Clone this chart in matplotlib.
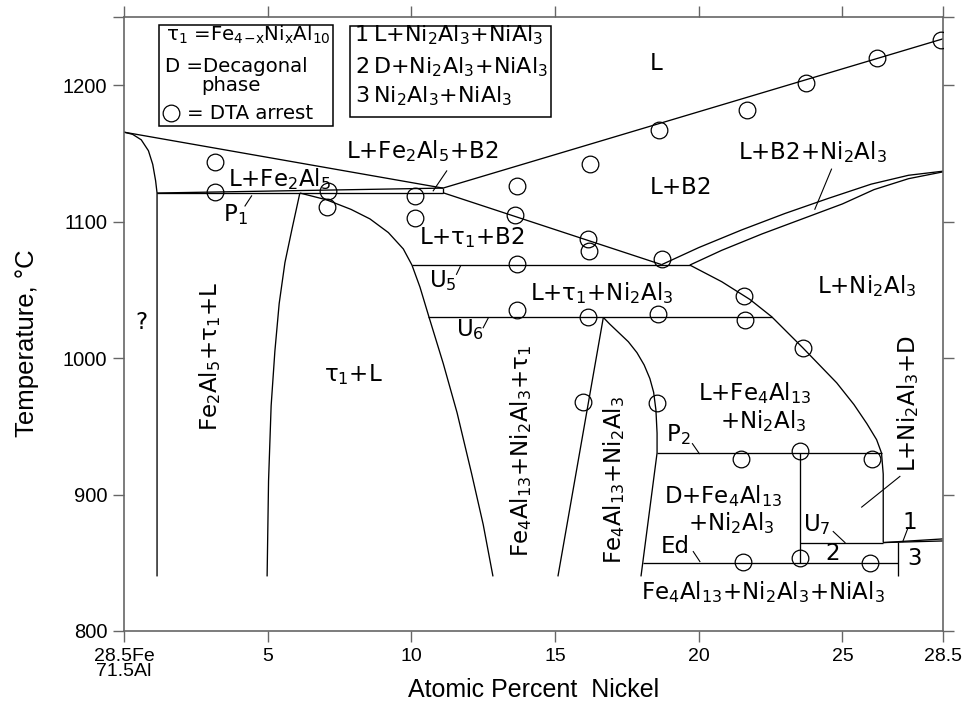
import numpy as np
import matplotlib
matplotlib.use('Agg')
import matplotlib.pyplot as plt
from matplotlib.patches import Rectangle

plt.rcParams['font.family'] = ['DejaVu Sans']
plt.rcParams['mathtext.default'] = 'regular'

# phase boundaries, (at.% Ni, temperature C)
liq_fe2al5 = [(0, 1165.6), (11.1, 1124.6)]
liq_b2 = [(11.1, 1124.6), (28.5, 1234)]
fe2al5_edge = [(0, 1165.6), (0.3, 1164), (0.6, 1160), (0.85, 1152), (1.0, 1142),
               (1.1, 1130), (1.15, 1121), (1.15, 840)]
p1_line = [(1.15, 1121), (11.1, 1121)]
p1_sliver = [(1.15, 1121), (11.1, 1124.6)]
p1_end = [(11.1, 1121), (11.1, 1124.6)]
b2_edge = [(11.1, 1121.2), (18.71, 1068.5)]
u5_line = [(10.02, 1068.2), (19.69, 1068.2)]
u6_line = [(10.58, 1030), (22.54, 1030)]
b2_ni2al3_up = [(18.71, 1068.5), (20.0, 1081), (21.5, 1094), (23.0, 1106), (24.5, 1117),
                (26.0, 1127.5), (27.3, 1134), (28.5, 1137)]
b2_ni2al3_lo = [(19.69, 1068.2), (20.8, 1079), (22.2, 1091), (23.6, 1102), (25.0, 1113),
                (26.1, 1123.5), (27.3, 1131.5), (28.5, 1136.5)]
ni2al3_liq = [(19.69, 1068.2), (20.8, 1056), (21.78, 1043), (22.54, 1030.3), (23.62, 1007.6),
              (24.8, 981.9), (25.4, 966), (25.85, 952), (26.19, 940.2), (26.36, 930.5),
              (26.42, 915), (26.42, 864.8)]
tau1_right = [(6.12, 1121), (7.05, 1116), (7.9, 1109), (8.56, 1102), (9.2, 1092),
              (9.72, 1080), (10.02, 1068.2), (10.3, 1052), (10.6, 1031), (11.11, 996),
              (11.59, 960), (12.1, 915), (12.5, 878), (12.84, 840)]
tau1_left = [(6.12, 1121), (5.85, 1095), (5.6, 1070), (5.4, 1040), (5.25, 1005),
             (5.12, 965), (5.03, 910), (4.98, 840)]
ni2al3_left = [(16.68, 1029.8), (15.1, 840)]
fe4al13_edge = [(16.68, 1029.8), (16.9, 1025), (17.2, 1019), (17.55, 1012), (17.85, 1004),
                (18.1, 995), (18.3, 985), (18.43, 975), (18.51, 962), (18.55, 945),
                (18.55, 930.5), (17.99, 840)]
p2_line = [(18.55, 930.5), (26.36, 930.5)]
d_vert = [(23.52, 930.5), (23.52, 850)]
u7_line = [(23.52, 864.8), (26.42, 864.8)]
ed_line = [(18.06, 850), (26.93, 850)]
wedge_up = [(26.42, 864.8), (28.5, 867.5)]
wedge_lo = [(26.42, 864.8), (28.5, 866)]
nial3_vert = [(26.93, 865.1), (26.93, 840)]

boundaries = [liq_fe2al5, liq_b2, fe2al5_edge, p1_line, p1_sliver, p1_end, b2_edge,
              u5_line, u6_line, b2_ni2al3_up, b2_ni2al3_lo, ni2al3_liq, tau1_right,
              tau1_left, ni2al3_left, fe4al13_edge, p2_line, d_vert, u7_line, ed_line,
              wedge_up, wedge_lo, nial3_vert]

# DTA arrests
dta_x = [3.17, 3.17, 7.11, 7.07, 10.13, 10.13, 13.66, 13.6, 13.66, 13.66, 16.21, 16.14,
         16.18, 16.14, 18.62, 18.71, 18.59, 15.97, 18.55, 21.67, 23.73, 26.19, 28.43,
         21.57, 21.6, 23.62, 21.46, 23.52, 26.02, 21.54, 23.52, 25.96]
dta_t = [1143.4, 1121.8, 1122.5, 1111.1, 1118.9, 1102.5, 1126.2, 1104.9, 1069.2, 1035.2,
         1142.1, 1087.6, 1078.5, 1029.8, 1167.3, 1072.4, 1032, 968.1, 967.2, 1182,
         1201.6, 1219.7, 1233.4, 1045.2, 1028, 1007.6, 926.1, 931.6, 926.1, 850.7,
         853.6, 849.9]

xticks = [0, 5, 10, 15, 20, 25, 28.5]
xticklabels = ['28.5Fe\n71.5Al', '5', '10', '15', '20', '25', '28.5']
yticks = [800, 900, 1000, 1100, 1200, 1250]
yticklabels = ['800', '900', '1000', '1100', '1200', '']

# region labels: x, T, text, rotation
labels = [
    (18.51, 1215.6, 'L', 0),
    (19.35, 1125.3, 'L$+$B2', 0),
    (23.97, 1151, 'L$+$B2$+$Ni$_2$Al$_3$', 0),
    (10.36, 1151.9, 'L$+$Fe$_2$Al$_5$$+$B2', 0),
    (5.43, 1131.1, 'L$+$Fe$_2$Al$_5$', 0),
    (3.86, 1105.4, 'P$_1$', 0),
    (12.1, 1088.3, 'L$+\\tau_1$$+$B2', 0),
    (11.11, 1056.5, 'U$_5$', 0),
    (12.04, 1021, 'U$_6$', 0),
    (16.62, 1048, 'L$+\\tau_1$$+$Ni$_2$Al$_3$', 0),
    (25.84, 1052.8, 'L$+$Ni$_2$Al$_3$', 0),
    (0.62, 1025.9, '?', 0),
    (2.99, 1001.4, 'Fe$_2$Al$_5$$+\\tau_1$$+$L', 90),
    (7.99, 988, '$\\tau_1$$+$L', 0),
    (13.83, 932.3, 'Fe$_4$Al$_{13}$$+$Ni$_2$Al$_3$$+\\tau_1$', 90),
    (17.06, 910.9, 'Fe$_4$Al$_{13}$$+$Ni$_2$Al$_3$', 90),
    (21.96, 974.5, 'L$+$Fe$_4$Al$_{13}$', 0),
    (22.25, 953.7, '$+$Ni$_2$Al$_3$', 0),
    (19.29, 943.9, 'P$_2$', 0),
    (20.85, 898.6, 'D$+$Fe$_4$Al$_{13}$', 0),
    (21.14, 879, '$+$Ni$_2$Al$_3$', 0),
    (19.17, 862, 'Ed', 0),
    (24.1, 877.8, 'U$_7$', 0),
    (24.65, 857, '2', 0),
    (27.52, 853.4, '3', 0),
    (27.35, 879.3, '1', 0),
    (22.24, 828.9, 'Fe$_4$Al$_{13}$$+$Ni$_2$Al$_3$$+$NiAl$_3$', 0),
    (27.29, 966.7, 'L$+$Ni$_2$Al$_3$$+$D', 90),
]

# leader lines
pointers = [
    [(24.62, 1138.5), (24.04, 1109.1)],
    [(11.23, 1137.2), (10.76, 1122.6)],
    [(4.44, 1118.9), (4.21, 1111.5)],
    [(11.71, 1067.5), (11.57, 1061.4)],
    [(12.68, 1029.6), (12.5, 1022.3)],
    [(19.78, 937.3), (20.02, 930)],
    [(19.81, 858.2), (20.04, 850.9)],
    [(24.68, 872.9), (25.09, 864.8)],
    [(27.0, 913.3), (25.67, 890.8)],
    [(27.28, 875.5), (27.1, 865.5)],
]

fig = plt.figure(figsize=(9.8, 7.11), dpi=100)
ax = fig.add_axes([124 / 980, 1 - 631 / 711, 819 / 980, 614 / 711])

for b in boundaries:
    b = np.array(b)
    ax.plot(b[:, 0], b[:, 1], color='black', lw=0.95, solid_capstyle='butt')
for p in pointers:
    p = np.array(p)
    ax.plot(p[:, 0], p[:, 1], color='black', lw=0.8)

ax.plot(dta_x, dta_t, 'o', ms=12, mfc='none', mec='black', mew=0.9, zorder=5)

fs = 16.5
for x, t, s, r in labels:
    ax.text(x, t, s, fontsize=fs, rotation=r, ha='center', va='center')

# legend boxes
ax.add_patch(Rectangle((1.23, 1170.3), 7.28 - 1.23, 1244.2 - 1170.3, fill=False, lw=1.1, ec='black'))
ax.add_patch(Rectangle((7.86, 1176.9), 14.85 - 7.86, 1243.2 - 1176.9, fill=False, lw=1.1, ec='black'))
fl = 14.2
ax.text(1.45, 1237.2, '$\\tau_1$ =Fe$_4$$_{-x}$Ni$_x$Al$_{10}$', fontsize=fl, va='center')
ax.text(1.43, 1214, 'D =Decagonal', fontsize=fl, va='center')
ax.text(2.7, 1199.5, 'phase', fontsize=fl, va='center')
ax.plot([1.62], [1179.4], 'o', ms=12, mfc='none', mec='black', mew=0.9)
ax.text(2.2, 1179.4, '= DTA arrest', fontsize=fl, va='center')
fb = 16
ax.text(8.04, 1236.8, '1', fontsize=fb, va='center')
ax.text(8.04, 1213, '2', fontsize=fb, va='center')
ax.text(8.04, 1192.3, '3', fontsize=fb, va='center')
ax.text(8.67, 1236.8, 'L$+$Ni$_2$Al$_3$$+$NiAl$_3$', fontsize=fb, va='center')
ax.text(8.67, 1213, 'D$+$Ni$_2$Al$_3$$+$NiAl$_3$', fontsize=fb, va='center')
ax.text(8.67, 1192.3, 'Ni$_2$Al$_3$$+$NiAl$_3$', fontsize=fb, va='center')

ax.set_xlim(0, 28.5)
ax.set_ylim(800, 1250)
ax.set_xticks(xticks)
ax.set_xticklabels(xticklabels, fontsize=14, family='Liberation Sans', linespacing=0.9)
ax.set_yticks(yticks)
ax.set_yticklabels(yticklabels, fontsize=14.5, family='Liberation Sans')
ax.tick_params(direction='out', length=8, width=1, color='#666666', top=True, right=True,
               pad=4)
for sp in ax.spines.values():
    sp.set_color('#666666')
    sp.set_linewidth(1.2)

fig.text(534 / 980, 1 - 690 / 711, 'Atomic Percent  Nickel', fontsize=18,
         family='Liberation Sans', ha='center', va='center')
fig.text(27 / 980, 1 - 343 / 711, 'Temperature, °C', fontsize=18.5, family='Liberation Sans',
         rotation=90, ha='center', va='center')

fig.savefig('out.png', dpi=100)
